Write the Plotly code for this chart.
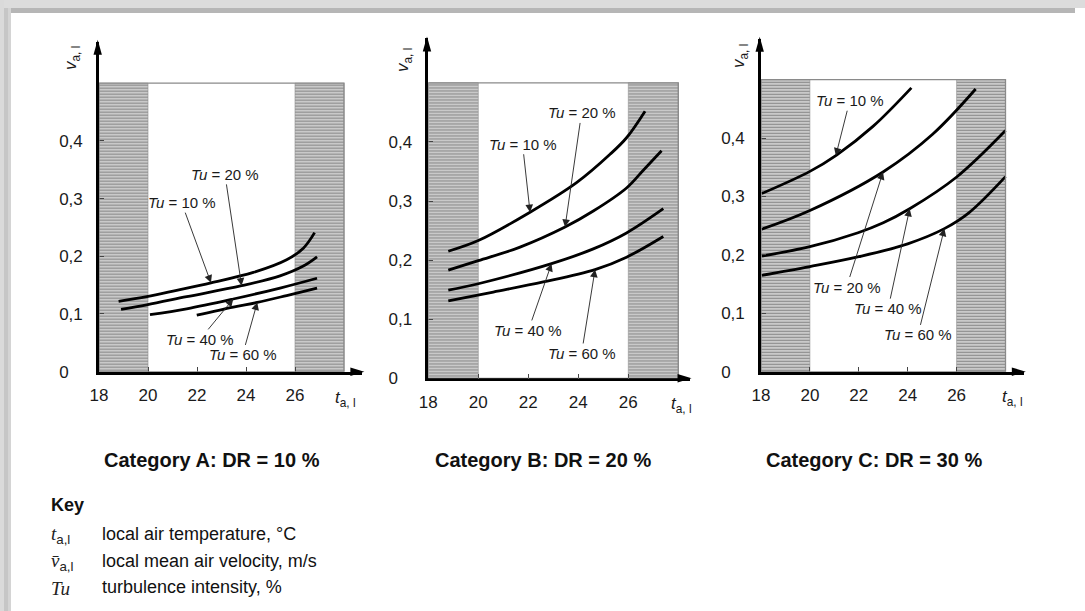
import plotly.graph_objects as go

W, H = 1085, 611

# ---------------- data ----------------
x_ticks = [18, 20, 22, 24, 26]
x_tick_text = ["18", "20", "22", "24", "26"]
y_ticks = [0, 0.1, 0.2, 0.3, 0.4]
y_tick_text = ["0\u2008\u2007", "0,1", "0,2", "0,3", "0,4"]

zone_left = [18, 20]      # hatched zone, low temperature
zone_right = [26, 28]     # hatched zone, high temperature
v_limit = 0.5             # top of the framed area

panel_titles = ["Category A: DR = 10 %", "Category B: DR = 20 %", "Category C: DR = 30 %"]
tu_values = ["10 %", "20 %", "40 %", "60 %"]

# Category A
A_tu10_x = [18.8, 19.95, 21.17, 22.57, 24.3, 25.66, 26.34, 26.8]
A_tu10_y = [0.122, 0.130, 0.141, 0.154, 0.172, 0.194, 0.214, 0.241]
A_tu20_x = [18.9, 19.95, 21.58, 23.82, 25.39, 26.34, 26.9]
A_tu20_y = [0.108, 0.116, 0.130, 0.149, 0.166, 0.183, 0.199]
A_tu40_x = [20.08, 21.58, 23.48, 25.39, 26.9]
A_tu40_y = [0.099, 0.109, 0.126, 0.145, 0.162]
A_tu60_x = [21.99, 23.48, 24.46, 25.66, 26.9]
A_tu60_y = [0.098, 0.112, 0.120, 0.132, 0.145]

# Category B
B_tu10_x = [18.8, 20.0, 22.07, 23.93, 25.27, 25.93, 26.67]
B_tu10_y = [0.215, 0.233, 0.281, 0.331, 0.379, 0.407, 0.452]
B_tu20_x = [18.8, 20.0, 21.67, 23.47, 24.6, 25.93, 26.6, 27.33]
B_tu20_y = [0.183, 0.199, 0.222, 0.256, 0.283, 0.322, 0.352, 0.385]
B_tu40_x = [18.8, 20.0, 22.93, 24.6, 25.93, 27.4]
B_tu40_y = [0.149, 0.160, 0.194, 0.219, 0.246, 0.287]
B_tu60_x = [18.8, 20.6, 22.6, 24.67, 25.93, 27.4]
B_tu60_y = [0.131, 0.146, 0.163, 0.184, 0.205, 0.240]

# Category C
C_tu10_x = [18.03, 20.0, 21.09, 22.58, 24.15]
C_tu10_y = [0.305, 0.343, 0.371, 0.420, 0.486]
C_tu20_x = [18.03, 20.0, 22.99, 25.03, 26.78]
C_tu20_y = [0.244, 0.276, 0.342, 0.407, 0.484]
C_tu40_x = [18.03, 20.0, 21.97, 23.0, 24.08, 25.99, 28.0]
C_tu40_y = [0.198, 0.214, 0.238, 0.255, 0.279, 0.333, 0.413]
C_tu60_x = [18.03, 20.0, 22.0, 24.0, 25.5, 26.5, 28.0]
C_tu60_y = [0.165, 0.180, 0.197, 0.219, 0.245, 0.272, 0.334]

# label positions (text centre) and arrow heads, in data units: Tu10, Tu20, Tu40, Tu60
A_lab_x = [21.37, 23.14, 22.12, 23.86]
A_lab_y = [0.293, 0.342, 0.056, 0.029]
A_head_x = [22.57, 23.82, 23.48, 24.46]
A_head_y = [0.154, 0.149, 0.126, 0.120]

B_lab_x = [21.77, 24.13, 22.0, 24.13]
B_lab_y = [0.396, 0.449, 0.081, 0.042]
B_head_x = [22.07, 23.47, 22.93, 24.67]
B_head_y = [0.281, 0.256, 0.194, 0.184]

C_lab_x = [21.63, 21.5, 23.2, 24.42]
C_lab_y = [0.464, 0.145, 0.108, 0.063]
C_head_x = [21.06, 22.99, 24.08, 25.5]
C_head_y = [0.370, 0.342, 0.279, 0.245]

SUB = "<sub><span style='font-family:Liberation Sans, Arial, sans-serif'>a,l</span></sub>"
key_symbols = ["<i>t</i>" + SUB, "<i>v\u0304</i>" + SUB, "<i>Tu</i>"]
key_texts = ["local air temperature, \u00b0C", "local mean air velocity, m/s", "turbulence intensity, %"]

series = [
    ([A_tu10_x, A_tu20_x, A_tu40_x, A_tu60_x], [A_tu10_y, A_tu20_y, A_tu40_y, A_tu60_y],
     A_lab_x, A_lab_y, A_head_x, A_head_y),
    ([B_tu10_x, B_tu20_x, B_tu40_x, B_tu60_x], [B_tu10_y, B_tu20_y, B_tu40_y, B_tu60_y],
     B_lab_x, B_lab_y, B_head_x, B_head_y),
    ([C_tu10_x, C_tu20_x, C_tu40_x, C_tu60_x], [C_tu10_y, C_tu20_y, C_tu40_y, C_tu60_y],
     C_lab_x, C_lab_y, C_head_x, C_head_y),
]

# ---------------- layout geometry (pixels) ----------------
geo = [
    dict(x0=99.0, sx=24.5, y0=371.7, sy=577.0, xmax=28.75, ymax=0.572, title_x=211.5, title_y=460,
         vx=72, vy=58, tx=346, ty=399),
    dict(x0=428.3, sx=25.0, y0=378.3, sy=591.0, xmax=28.45, ymax=0.575, title_x=542.5, title_y=460,
         vx=404, vy=60, tx=681, ty=405),
    dict(x0=761.0, sx=24.45, y0=371.7, sy=584.0, xmax=28.75, ymax=0.57, title_x=873.5, title_y=460,
         vx=740, vy=56, tx=1012, ty=398),
]

def PX(x):
    return x / W

def PY(y):
    return 1 - y / H

SANS = "Liberation Sans, Arial, sans-serif"
SERIF = "Liberation Serif, Times New Roman, serif"

fig = go.Figure()
layout = dict(width=W, height=H, margin=dict(l=0, r=0, t=0, b=0, autoexpand=False),
              paper_bgcolor="white", plot_bgcolor="rgba(0,0,0,0)", showlegend=False)
shapes = []
annotations = []

def note(x, y, text, font, **kw):
    d = dict(xref="paper", yref="paper", x=PX(x), y=PY(y), showarrow=False, text=text, font=font,
             xanchor="center", yanchor="middle")
    d.update(kw)
    annotations.append(d)

for i, (g, (xs, ys, lx, ly, hx, hy)) in enumerate(zip(geo, series)):
    n = "" if i == 0 else str(i + 1)
    xa, ya = "x" + n, "y" + n
    x_right_px = g["x0"] + g["sx"] * (g["xmax"] - 18)
    y_top_px = g["y0"] - g["sy"] * g["ymax"]
    axis_common = dict(showgrid=False, zeroline=False, showline=True, linewidth=2.6, linecolor="black",
                       ticks="inside", ticklen=5, tickwidth=1, tickcolor="#444", automargin=False,
                       tickfont=dict(family=SANS, size=17, color="#1a1a1a"))
    layout["xaxis" + n] = dict(axis_common, domain=[PX(g["x0"]), PX(x_right_px)], range=[18, g["xmax"]],
                               anchor=ya, tickvals=x_ticks, ticktext=x_tick_text, ticklabelstandoff=6)
    layout["yaxis" + n] = dict(axis_common, domain=[PY(g["y0"]), PY(y_top_px)], range=[0, g["ymax"]],
                               anchor=xa, tickvals=y_ticks, ticktext=y_tick_text, ticklabelstandoff=10)

    # hatched zones
    for zone in (zone_left, zone_right):
        fig.add_trace(go.Scatter(
            x=[zone[0], zone[1], zone[1], zone[0], zone[0]], y=[0, 0, v_limit, v_limit, 0],
            xaxis=xa, yaxis=ya, mode="lines", line=dict(width=0.6, color="#8f8f8f"),
            fill="toself", fillcolor="#cccccc",
            fillpattern=dict(shape="-", fgcolor="#3f3f3f", bgcolor="#d2d2d2", size=3, solidity=0.42),
            hoverinfo="skip"))
    # frame of the diagram area
    shapes.append(dict(type="rect", xref=xa, yref=ya, x0=zone_left[0], x1=zone_right[1], y0=0, y1=v_limit,
                       line=dict(color="#8a8a8a", width=1.3), layer="above"))

    # curves
    for cx, cy in zip(xs, ys):
        fig.add_trace(go.Scatter(x=cx, y=cy, xaxis=xa, yaxis=ya, mode="lines",
                                 line=dict(color="black", width=2.8, shape="spline", smoothing=1.0),
                                 hoverinfo="skip"))
    # Tu labels with arrows
    for val, tx, ty, ax_, ay_ in zip(tu_values, lx, ly, hx, hy):
        annotations.append(dict(xref=xa, yref=ya, axref=xa, ayref=ya, x=ax_, y=ay_, ax=tx, ay=ty,
                                text="<i>Tu</i> = " + val,
                                font=dict(family=SANS, size=15, color="#1a1a1a"),
                                showarrow=True, arrowhead=2, arrowsize=1.7, arrowwidth=0.9,
                                arrowcolor="#222", standoff=0, startstandoff=0))

    # axis arrowheads
    yc = g["y0"]
    shapes.append(dict(type="path", xref="paper", yref="paper", fillcolor="black", line=dict(width=0),
                       path=f"M {PX(x_right_px + 2)},{PY(yc)} L {PX(x_right_px - 12)},{PY(yc - 4.2)} "
                            f"L {PX(x_right_px - 12)},{PY(yc + 4.2)} Z"))
    xc = g["x0"] - 1.3
    shapes.append(dict(type="path", xref="paper", yref="paper", fillcolor="black", line=dict(width=0),
                       path=f"M {PX(xc)},{PY(y_top_px - 2)} L {PX(xc - 4.2)},{PY(y_top_px + 13)} "
                            f"L {PX(xc + 4.2)},{PY(y_top_px + 13)} Z"))

    # axis titles and panel title
    note(g["vx"], g["vy"], "<i>v</i><sub>a, l</sub>", dict(family=SANS, size=17, color="#1a1a1a"),
         textangle=-90)
    note(g["tx"], g["ty"], "<i>t</i><sub>a, l</sub>", dict(family=SANS, size=17, color="#1a1a1a"))
    note(g["title_x"], g["title_y"], "<b>" + panel_titles[i] + "</b>",
         dict(family=SANS, size=20, color="#111"))

# Key
note(49, 505, "<b>Key</b>", dict(family=SANS, size=18, color="#111"), xanchor="left")
key_rows_y = [534, 561, 587]
for sym, txt, yk in zip(key_symbols, key_texts, key_rows_y):
    note(49, yk + 1, sym, dict(family=SERIF, size=19, color="#222"), xanchor="left")
    note(100, yk, txt, dict(family=SANS, size=18, color="#111"), xanchor="left")

# page frame (grey border of the screenshot)
shapes += [
    dict(type="rect", xref="paper", yref="paper", x0=0, x1=1, y0=PY(8), y1=1, fillcolor="#dcdcdc",
         line=dict(width=0), layer="below"),
    dict(type="rect", xref="paper", yref="paper", x0=PX(5), x1=PX(1075), y0=PY(13), y1=PY(8),
         fillcolor="#b6b6b6", line=dict(width=0), layer="below"),
    dict(type="rect", xref="paper", yref="paper", x0=0, x1=PX(4), y0=0, y1=1, fillcolor="#dadada",
         line=dict(width=0), layer="below"),
    dict(type="rect", xref="paper", yref="paper", x0=PX(4), x1=PX(8), y0=0, y1=PY(8), fillcolor="#c6c6c6",
         line=dict(width=0), layer="below"),
    dict(type="rect", xref="paper", yref="paper", x0=PX(8), x1=PX(11), y0=0, y1=PY(8), fillcolor="#d4d4d4",
         line=dict(width=0), layer="below"),
]

layout["shapes"] = shapes
layout["annotations"] = annotations
fig.update_layout(**layout)
fig.write_html("out.html")
